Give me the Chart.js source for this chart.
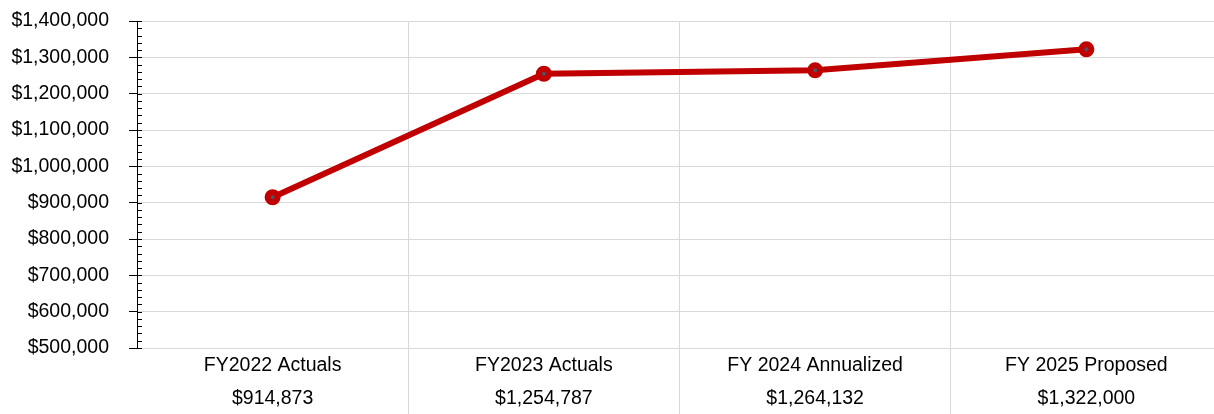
<!DOCTYPE html>
<html>
<head>
<meta charset="utf-8">
<script src="https://cdn.jsdelivr.net/npm/chart.js@4"></script>
<style>
  html, body { margin: 0; padding: 0; background: #fff; overflow: hidden; width: 1214px; height: 414px; }
  canvas { display: block; }
</style>
</head>
<body>
<canvas id="c" width="1222" height="414"></canvas>
<script>
const categories = ['FY2022 Actuals', 'FY2023 Actuals', 'FY 2024 Annualized', 'FY 2025 Proposed'];
const values = [914873, 1254787, 1264132, 1322000];
const yMin = 500000;
const yMax = 1400000;
const yStep = 100000;
const yMinorStep = 20000;

const money = v => '$' + Math.round(v).toLocaleString('en-US');
const labels = categories.map((c, i) => [c, money(values[i])]);

const FONT = 'Liberation Sans, Arial, sans-serif';
const GRID = '#d9d9d9';

const minorTicks = {
  id: 'minorTicks',
  afterDraw(chart) {
    const s = chart.scales.y;
    const ctx = chart.ctx;
    ctx.save();
    ctx.strokeStyle = '#000';
    ctx.lineWidth = 1;
    ctx.beginPath();
    for (let v = yMin; v <= yMax; v += yMinorStep) {
      const y = Math.round(s.getPixelForValue(v)) + 0.5;
      ctx.moveTo(s.right, y);
      ctx.lineTo(s.right + 5, y);
    }
    ctx.stroke();
    ctx.restore();
  }
};

new Chart(document.getElementById('c'), {
  type: 'line',
  data: {
    labels: labels,
    datasets: [{
      data: values,
      borderColor: '#C00000',
      borderWidth: 6,
      tension: 0,
      pointRadius: 5,
      pointHoverRadius: 5,
      pointBorderWidth: 6,
      pointBorderColor: '#C00000',
      pointBackgroundColor: '#4A5562'
    }]
  },
  options: {
    responsive: false,
    animation: false,
    events: [],
    layout: { autoPadding: false, padding: { top: 21, left: 0, right: 0, bottom: 0 } },
    plugins: { legend: { display: false }, tooltip: { enabled: false } },
    scales: {
      x: {
        offset: true,
        grid: {
          offset: true,
          color: GRID,
          tickColor: ctx => (ctx.index === 0 ? 'rgba(0,0,0,0)' : GRID),
          tickLength: 66,
          drawTicks: true
        },
        border: { color: GRID },
        ticks: {
          color: '#000',
          font: { family: FONT, size: 19.5, lineHeight: 1.69 },
          padding: -64.5,
          maxRotation: 0,
          autoSkip: false
        },
        afterFit: s => { s.height = 66; s.paddingLeft = 0; s.paddingRight = 0; }
      },
      y: {
        min: yMin,
        max: yMax,
        grid: { color: GRID, tickColor: '#000', tickLength: 8 },
        border: { color: '#000', width: 1 },
        ticks: {
          stepSize: yStep,
          color: '#000',
          padding: 20,
          font: { family: FONT, size: 19.5 },
          callback: v => money(v)
        },
        afterFit: s => { s.width = 137; s.paddingTop = 0; s.paddingBottom = 0; }
      }
    }
  },
  plugins: [minorTicks]
});
</script>
</body>
</html>
